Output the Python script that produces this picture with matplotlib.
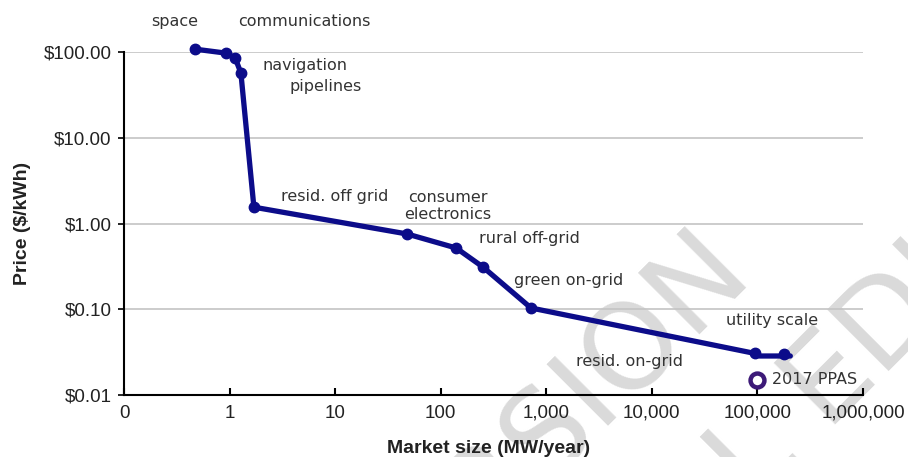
import numpy as np
import matplotlib.pyplot as plt
from matplotlib.ticker import FixedLocator, NullLocator

# market size (MW/year) and price ($/kWh) along the curve
curve_x = [0.47, 0.925, 1.13, 1.28, 1.7, 48, 140, 251, 716, 95000, 105000, 205000]
curve_y = [108, 97, 85, 57, 1.55, 0.755, 0.518, 0.311, 0.1035, 0.0305, 0.0285, 0.0285]

# points marked with dots
dots_x = [0.47, 0.925, 1.13, 1.28, 1.7, 48, 140, 251, 716, 95000, 180000]
dots_y = [108, 97, 85, 57, 1.55, 0.755, 0.518, 0.311, 0.1035, 0.0305, 0.0300]

# 2017 PPAs point
ppa_x = [100000]
ppa_y = [0.015]

# segment labels
seg_labels = ['space', 'communications', 'navigation', 'pipelines', 'resid. off grid',
              'consumer\nelectronics', 'rural off-grid', 'green on-grid',
              'utility scale', 'resid. on-grid']
seg_label_x = [0.30, 5.1, 5.2, 8.2, 10, 116, 686, 1640, 137000, 6200]
seg_label_y = [224, 224, 70, 40, 2.04, 1.6, 0.66, 0.219, 0.073, 0.0243]

x_ticks = [0.1, 1, 10, 100, 1000, 10000, 100000, 1000000]
x_tick_labels = ['0', '1', '10', '100', '1,000', '10,000', '100,000', '1,000,000']
y_ticks = [0.01, 0.1, 1, 10, 100]

W, H = 908, 457
fig = plt.figure(figsize=(W / 100, H / 100), dpi=100)
ax = fig.add_axes([124 / W, 1 - 395 / H, 739 / W, 343 / H])

#
# watermark
#
wm = dict(transform=fig.transFigure, fontsize=86, family='Liberation Sans Narrow',
          color='#dadada', rotation=45, rotation_mode='anchor', va='baseline',
          zorder=0, clip_on=False)
ax.text(755 / W, 1 - 278 / H, 'VERSION', ha='right', **wm)
ax.text(559 / W, 1 - 701 / H, 'FINAL EDITED', ha='left', **wm)

navy = '#0c0c8a'
ax.plot(curve_x, curve_y, color=navy, lw=3.8, solid_joinstyle='round',
        solid_capstyle='round', zorder=3, clip_on=False)
ax.plot(dots_x, dots_y, 'o', color=navy, ms=7.5, zorder=4, clip_on=False)
ax.plot(ppa_x, ppa_y, 'o', color='#3d1a78', mfc='white', ms=10, mew=3.2, zorder=4)
ax.text(137000, 0.015, '2017 PPAS', fontsize=11.5, color='#333333', ha='left', va='center')

for lab, lx, ly in zip(seg_labels, seg_label_x, seg_label_y):
    ax.text(lx, ly, lab, fontsize=11.5, color='#333333', ha='center', va='center',
            linespacing=1.15, clip_on=False)

ax.set_xscale('log')
ax.set_yscale('log')
ax.set_xlim(0.1, 1000000)
ax.set_ylim(0.01, 100)

ax.xaxis.set_major_locator(FixedLocator(x_ticks))
ax.xaxis.set_minor_locator(NullLocator())
ax.set_xticklabels(x_tick_labels)
ax.yaxis.set_major_locator(FixedLocator(y_ticks))
ax.yaxis.set_minor_locator(NullLocator())
ax.set_yticklabels(['${:.2f}'.format(v) for v in y_ticks])

ax.grid(axis='y', color='#c4c4c4', lw=1.2)
ax.set_axisbelow(True)

for s in ['top', 'right']:
    ax.spines[s].set_visible(False)
for s in ['left', 'bottom']:
    ax.spines[s].set_linewidth(1.5)
    ax.spines[s].set_color('black')

ax.tick_params(axis='x', direction='in', length=5, width=1.5, pad=7,
               labelsize=13.5, labelcolor='#222222')
ax.tick_params(axis='y', direction='out', length=4, width=1.2, pad=5,
               labelsize=13.5, labelcolor='#222222')
for t in ax.get_xticklabels() + ax.get_yticklabels():
    t.set_fontfamily('Liberation Sans')

ax.set_xlabel('Market size (MW/year)', fontsize=14, fontweight='bold',
              family='Liberation Sans', color='#222222')
ax.set_ylabel('Price ($/kWh)', fontsize=14, fontweight='bold',
              family='Liberation Sans', color='#222222')
ax.xaxis.set_label_coords((489 - 124) / 739, (395 - 440) / 343)
ax.yaxis.set_label_coords((31 - 124) / 739, 0.5)

fig.savefig('out.png', dpi=100)
